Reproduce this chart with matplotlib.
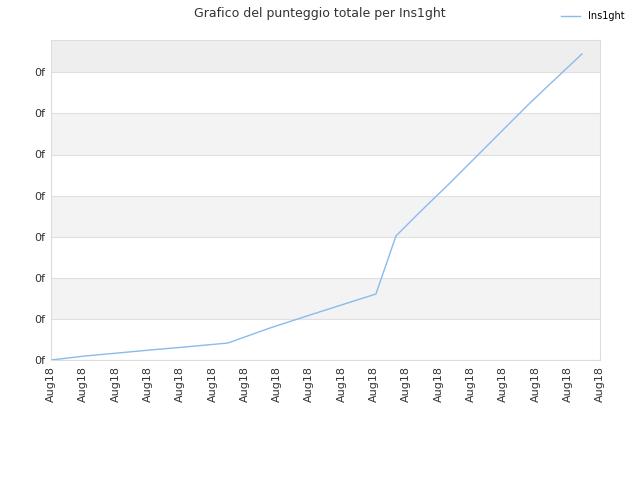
import matplotlib
matplotlib.use("Agg")
import matplotlib.pyplot as plt

x_px = [51, 85, 118, 150, 185, 228, 270, 310, 376, 396, 420, 450, 500, 530, 582]
y_px = [360, 356, 353, 350, 347, 343, 328, 315, 294, 236, 212, 183, 133, 103, 54]
xs = [(p - 51) / 32.3 for p in x_px]
ys = [(360 - p) / 41.1 for p in y_px]
xlabels = ["Aug18"] * 18
ylabels = ["0f"] * 8

fig = plt.figure(figsize=(6.4, 4.8), dpi=100)
ax = fig.add_axes([51/640, 120/480, 549/640, 320/480])
ax.set_xlim(0, 17)
ax.set_ylim(0, 320/41.1)
bands = [(1, 2, "#f3f3f3"), (3, 4, "#f3f3f3"), (5, 6, "#f3f3f3"), (7, 320/41.1, "#eeeeee")]
for a, b, c in bands:
    ax.axhspan(a, b, color=c, zorder=0, lw=0)
for i in range(8):
    ax.axhline(i, color="#e0e0e0", lw=0.8, zorder=1)
ax.plot(xs, ys, color="#88bbee", lw=1, label="Ins1ght", zorder=3)
ax.set_xticks(range(18))
ax.set_xticklabels(xlabels, rotation=90, fontsize=8, color="#333333")
ax.set_yticks(range(8))
ax.set_yticklabels(ylabels, fontsize=8, color="#333333")
for s in ax.spines.values():
    s.set_color("#dddddd")
ax.tick_params(length=0, pad=4)
fig.suptitle("Grafico del punteggio totale per Ins1ght", fontsize=9, color="#333333", y=0.985)
fig.legend(loc="upper right", bbox_to_anchor=(0.99, 0.995), frameon=False, fontsize=7)
fig.savefig("out.png")
